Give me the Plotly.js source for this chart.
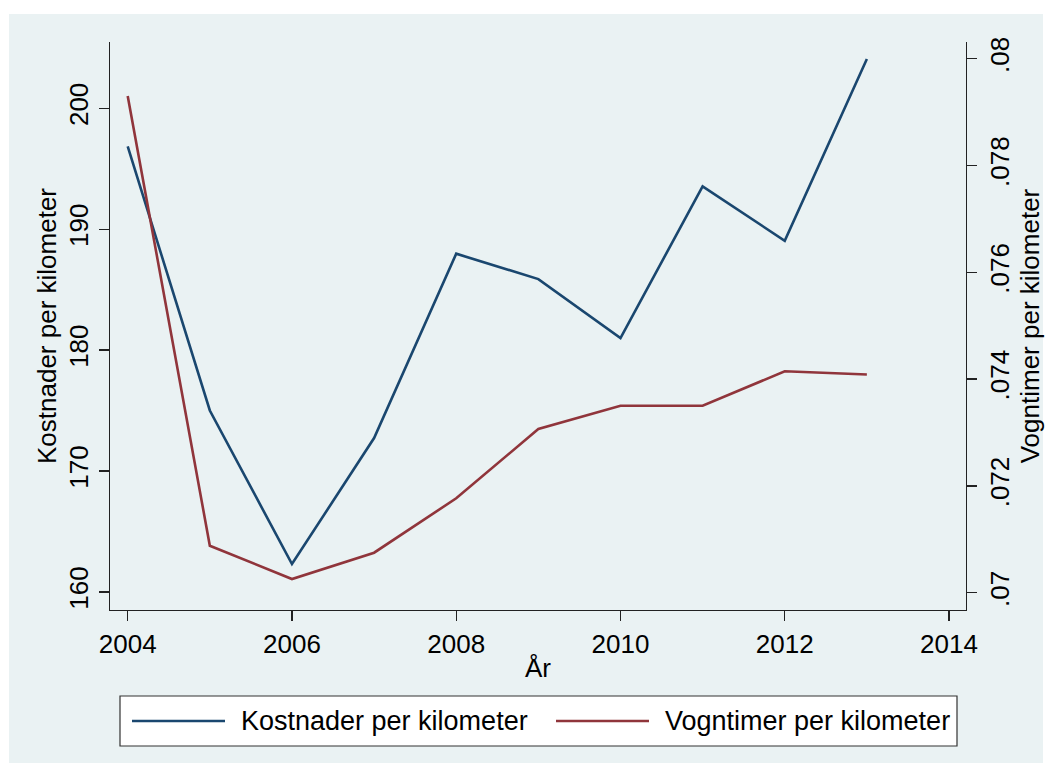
<!DOCTYPE html>
<html><head><meta charset="utf-8">
<script src="https://cdn.plot.ly/plotly-3.0.1.min.js"></script>
<style>html,body{margin:0;padding:0;background:#fff;overflow:hidden}</style>
</head><body>
<div id="chart" style="width:1052px;height:773px"></div>
<script>
// ---- data ----
const years = [2004, 2005, 2006, 2007, 2008, 2009, 2010, 2011, 2012, 2013];
const kostnader = [196.84, 175.0, 162.3, 172.72, 187.97, 185.87, 180.99, 193.54, 189.04, 204.07];
const vogntimer = [0.079302, 0.07088, 0.070256, 0.070749, 0.071768, 0.073066, 0.073502, 0.073502, 0.074146, 0.074086];
const seriesNames = ['Kostnader per kilometer', 'Vogntimer per kilometer'];
const xTicks = [2004, 2006, 2008, 2010, 2012, 2014];
const leftTicks = [160, 170, 180, 190, 200];
const rightTickVals = [0.07, 0.072, 0.074, 0.076, 0.078, 0.08];
const rightTickText = ['.07', '.072', '.074', '.076', '.078', '.08'];
const xTitle = 'År';
const leftTitle = 'Kostnader per kilometer';
const rightTitle = 'Vogntimer per kilometer';

// ---- layout geometry ----
const W = 1052, H = 773;
const M = {l: 110, r: 86, t: 42, b: 163};
const PW = W - M.l - M.r, PH = H - M.t - M.b;
const px = x => (x - M.l) / PW;
const py = y => (H - M.b - y) / PH;

const navy = '#1a476f', maroon = '#90353b';
const bg = '#eaf2f3';
const font = {family: 'Liberation Sans, Arial, sans-serif', size: 26, color: '#000'};
const legFont = {family: 'Liberation Sans, Arial, sans-serif', size: 27, color: '#000'};

const traces = [
  {x: years, y: kostnader, name: seriesNames[0], type: 'scatter', mode: 'lines',
   line: {color: navy, width: 2.6}, yaxis: 'y', showlegend: false},
  {x: years, y: vogntimer, name: seriesNames[1], type: 'scatter', mode: 'lines',
   line: {color: maroon, width: 2.6}, yaxis: 'y2', showlegend: false}
];

const axCommon = {
  showline: true, linecolor: '#222', linewidth: 1.3,
  ticks: 'outside', ticklen: 10, tickwidth: 1.3, tickcolor: '#222',
  tickfont: font, zeroline: false, automargin: false, fixedrange: true
};

const legY = py(721);
const layout = {
  width: W, height: H,
  margin: M,
  paper_bgcolor: '#ffffff', plot_bgcolor: '#ffffff',
  font: font,
  showlegend: false,
  xaxis: Object.assign({}, axCommon, {
    range: [2003.7845, 2014.207], tickvals: xTicks, showgrid: false,
    title: {text: xTitle, font: font, standoff: 1}
  }),
  yaxis: Object.assign({}, axCommon, {
    range: [158.50, 205.48], tickvals: leftTicks, tickangle: -90,
    showgrid: true, gridcolor: bg, gridwidth: 2,
    title: {text: leftTitle, font: font, standoff: 0}
  }),
  yaxis2: Object.assign({}, axCommon, {
    range: [0.069676, 0.080313], tickvals: rightTickVals, ticktext: rightTickText,
    tickangle: -90, overlaying: 'y', side: 'right', showgrid: false,
    title: {text: rightTitle, font: font, standoff: 1}
  }),
  shapes: [
    {type: 'rect', xref: 'paper', yref: 'paper', layer: 'below',
     x0: px(9), x1: px(1043), y0: py(763), y1: py(14),
     fillcolor: bg, line: {width: 0}},
    {type: 'rect', xref: 'paper', yref: 'paper',
     x0: px(120), x1: px(957), y0: py(746), y1: py(696),
     fillcolor: '#ffffff', line: {color: '#333', width: 1.2}},
    {type: 'line', xref: 'paper', yref: 'paper',
     x0: px(132), x1: px(225), y0: legY, y1: legY, line: {color: navy, width: 2.6}},
    {type: 'line', xref: 'paper', yref: 'paper',
     x0: px(556), x1: px(649), y0: legY, y1: legY, line: {color: maroon, width: 2.6}}
  ],
  annotations: [
    {xref: 'paper', yref: 'paper', x: px(239), y: legY, xanchor: 'left', yanchor: 'middle',
     text: seriesNames[0], showarrow: false, font: legFont},
    {xref: 'paper', yref: 'paper', x: px(663), y: legY, xanchor: 'left', yanchor: 'middle',
     text: seriesNames[1], showarrow: false, font: legFont}
  ]
};

Plotly.newPlot('chart', traces, layout, {displayModeBar: false, staticPlot: true});
</script>
</body></html>
